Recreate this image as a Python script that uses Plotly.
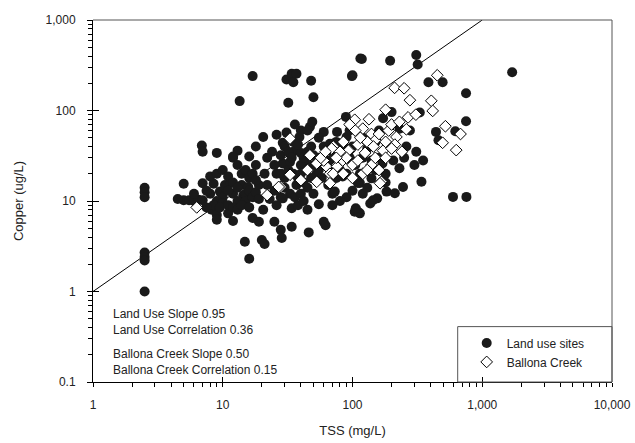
import plotly.graph_objects as go

# ---- data ----
land_x = [2.5, 2.5, 2.5, 2.5, 2.5, 2.5, 2.5,
          5, 5, 5.5, 6, 6.5, 7, 6.9, 7, 9, 7, 8.5, 8, 9, 8.2, 9, 9, 11, 10, 8, 7.5, 9.5, 10, 9, 8.5, 10, 7.5, 9.5, 10.5, 4.5, 6,
          10.4, 11.4, 12, 13, 11, 12, 14, 14.4, 15.7, 16, 18, 18, 17, 13.5, 12, 13, 11, 12, 13, 15, 15, 16, 17, 18, 19, 19, 14, 15, 13, 16, 17, 18,
          11, 12, 13, 14, 16, 14.8, 16, 19, 20, 21, 20.5, 17, 12,
          20.5, 26, 29, 31, 39, 47, 49, 60, 60, 67, 76, 36, 40, 44, 44, 53, 37, 25, 29, 33, 21, 22, 26, 25, 22, 24, 28, 30, 32, 34, 35, 38, 40, 42,
          45, 48, 50, 55, 28, 30, 32, 35, 38, 40, 42, 45, 48, 50, 55, 58, 30, 33, 36, 40, 28, 23, 26, 29, 34, 38, 42, 45, 55, 50,
          25, 28, 28.5, 34, 46, 60, 62, 31, 34, 37, 35, 48, 32, 50, 40, 45, 36, 55, 65, 70, 65, 70, 75, 80,
          89, 90, 99, 100, 115, 118, 104, 114, 110, 106, 137, 155, 183, 212, 245, 340, 595, 755, 114, 114, 140, 144, 73, 84, 110,
          230, 206, 172, 76, 98, 200, 230, 277, 310, 330, 440, 460, 620, 750, 750, 385, 495, 318, 310, 195, 1700,
          90, 95, 100, 105, 120, 130, 150, 160, 170, 190, 80, 85, 75, 70, 95, 120, 160, 140, 180, 150, 120, 100, 130, 90, 80, 70, 180, 250, 260, 300, 350]
land_y = [14, 12.5, 11, 2.7, 2.4, 2.2, 1.0,
          15.5, 10.2, 10.2, 10, 10.3, 10.2, 41, 35, 34, 15.7, 15.5, 18.7, 20, 8, 7, 6.2, 7.3, 22, 12, 13, 12.7, 11, 10, 9, 9.5, 8.5, 8.5, 14, 10.5, 12,
          15, 15.7, 30, 36, 18.7, 31, 15, 11.6, 14.3, 31, 40, 25, 240, 127, 12, 10, 13, 16, 14, 12, 10, 13, 11, 12.5, 15, 10.5, 20, 22, 25, 18, 20, 17,
          9, 8.5, 8, 9, 8.5, 3.55, 2.3, 5.9, 3.7, 3.35, 8, 6.5, 6,
          51, 54, 44, 57, 51, 66, 75, 58, 40, 43, 34, 36, 34, 28, 22, 20, 15, 13, 26, 27, 20, 15, 20, 25, 30, 35, 32, 40, 35, 30, 45, 42, 25, 30,
          35, 40, 32, 30, 20, 18, 22, 20, 18, 20, 16, 14, 18, 25, 22, 18, 14, 12, 11, 12, 11, 10.5, 9, 10.7, 8.3, 9, 10, 8, 9.2, 12,
          5.9, 4.8, 3.9, 5.2, 4.5, 5.9, 5.4, 220, 255, 255, 205, 213, 122, 140, 60, 60, 70, 50, 28, 25, 15, 12, 18, 22,
          85, 51, 240, 245, 375, 370, 7.6, 7.3, 7.6, 8.3, 9.4, 10.7, 12.7, 12.2, 14.3, 16.3, 11.1, 11.1, 15.8, 20, 17.8, 10.2, 12.7, 18.7, 15.8,
          23, 28, 82, 58, 28, 96, 63, 60, 35, 95, 58, 47, 59, 155, 76, 205, 205, 323, 410, 355, 265,
          20, 30, 40, 25, 30, 38, 45, 30, 26, 40, 30, 40, 45, 35, 60, 50, 60, 28, 20, 22, 12, 13, 14, 11, 10, 9, 16, 30, 40, 25, 28]

creek_x = [6.3, 33, 71, 53, 63, 76, 67, 95, 104, 28, 33, 40, 53, 67, 22, 27,
           450, 211, 250, 277, 405, 415, 180, 268, 308, 520, 680, 495, 630,
           134, 120, 140, 218, 240, 212, 172, 160, 167, 110, 125, 93, 150, 76, 71, 84, 69, 163,
           85, 90, 100, 110, 130, 145, 160, 180, 190, 200, 230, 260, 115, 105, 95, 120, 140, 150, 180, 200,
           80, 75, 60, 45, 47, 57, 62, 85, 100, 130]
creek_y = [8.5, 49, 40, 26, 24, 25, 20, 36, 79, 14.3, 19.5, 17, 16.3, 15.7, 11.6, 14.3,
           245, 178, 176, 130, 128, 99, 102, 84, 90, 67, 55, 44, 36.5,
           80, 63, 55, 51, 35, 42, 36, 22, 16.3, 42, 34, 36, 47, 24, 20, 28, 38, 15.7,
           45, 30, 25, 28, 45, 40, 55, 45, 60, 70, 75, 62, 50, 60, 70, 20, 25, 30, 30, 38,
           35, 30, 28, 22, 32, 30, 35, 20, 18, 22]

line_x = [1, 1000]
line_y = [1, 1000]

x_ticks = [1, 10, 100, 1000, 10000]
x_labels = ["1", "10", "100", "1,000", "10,000"]
y_ticks = [0.1, 1, 10, 100, 1000]
y_labels = ["0.1", "1", "10", "100", "1,000"]
x_minor = [m * d for d in [1, 10, 100, 1000] for m in range(2, 10)]
y_minor = [m * d for d in [0.1, 1, 10, 100] for m in range(2, 10)]

stats_text = ["Land Use Slope 0.95", "Land Use Correlation 0.36",
              "Ballona Creek Slope 0.50", "Ballona Creek Correlation 0.15"]

FONT = "Liberation Sans, Arial, sans-serif"

fig = go.Figure()
fig.add_trace(go.Scatter(x=line_x, y=line_y, mode="lines",
                         line=dict(color="black", width=1), showlegend=False, hoverinfo="skip"))
fig.add_trace(go.Scatter(x=land_x, y=land_y, mode="markers", name="Land use sites",
                         marker=dict(symbol="circle", size=10, color="#1a1a1a", line=dict(width=0))))
fig.add_trace(go.Scatter(x=creek_x, y=creek_y, mode="markers", name="Ballona Creek",
                         marker=dict(symbol="diamond", size=9, color="white",
                                     line=dict(color="black", width=1))))
# empty trace so the overlay axes (inner half of the major ticks) exist
fig.add_trace(go.Scatter(x=[], y=[], xaxis="x2", yaxis="y2", showlegend=False))

axis_common = dict(type="log", showgrid=False, zeroline=False, showline=True, automargin=False,
                   linecolor="black", linewidth=1, ticks="outside", tickcolor="black",
                   tickwidth=1, tickfont=dict(family=FONT, size=12, color="#222"))

fig.update_layout(
    width=635, height=443,
    margin=dict(l=93, r=23, t=20, b=61, autoexpand=False),
    plot_bgcolor="white", paper_bgcolor="white",
    font=dict(family=FONT, size=12, color="#222"),
    xaxis=dict(**axis_common, range=[0, 4], tickmode="array", tickvals=x_ticks, ticktext=x_labels,
               ticklen=4, ticklabelstandoff=8,
               minor=dict(tickmode="array", tickvals=x_minor, ticks="outside", ticklen=4,
                          tickcolor="black", tickwidth=1),
               title=dict(text="TSS (mg/L)", font=dict(family=FONT, size=13, color="#222"), standoff=14)),
    yaxis=dict(**axis_common, range=[-1, 3], tickmode="array", tickvals=y_ticks, ticktext=y_labels,
               ticklen=5, ticklabelstandoff=9,
               minor=dict(tickmode="array", tickvals=y_minor, ticks="outside", ticklen=4,
                          tickcolor="black", tickwidth=1),
               title=dict(text="Copper (ug/L)", font=dict(family=FONT, size=13, color="#222"), standoff=19)),
    xaxis2=dict(type="log", range=[0, 4], overlaying="x", anchor="y", side="bottom", automargin=False,
                showgrid=False, zeroline=False, showline=False, showticklabels=False,
                tickmode="array", tickvals=x_ticks, ticks="inside", ticklen=5,
                tickcolor="black", tickwidth=1),
    yaxis2=dict(type="log", range=[-1, 3], overlaying="y", anchor="x", side="left", automargin=False,
                showgrid=False, zeroline=False, showline=False, showticklabels=False,
                tickmode="array", tickvals=y_ticks, ticks="inside", ticklen=6,
                tickcolor="black", tickwidth=1),
    legend=dict(x=0.72, y=0.148, xanchor="left", yanchor="top",
                bgcolor="rgba(0,0,0,0)", borderwidth=0,
                font=dict(family=FONT, size=12, color="#222"), tracegroupgap=0),
    showlegend=True,
)

# frame: top and right borders (grey) and legend box
fig.add_shape(type="line", xref="paper", yref="paper", x0=0, x1=1, y0=1, y1=1,
              line=dict(color="#555", width=1))
fig.add_shape(type="line", xref="paper", yref="paper", x0=1, x1=1, y0=0, y1=1,
              line=dict(color="#555", width=1))
fig.add_shape(type="rect", xref="paper", yref="paper", x0=0.7027, x1=1, y0=0, y1=0.153,
              line=dict(color="#555", width=1), fillcolor="rgba(0,0,0,0)")

for i, t in enumerate(stats_text):
    ypos = [314, 330, 354, 370][i]
    fig.add_annotation(text=t, xref="paper", yref="paper", x=(111 - 93) / 519,
                       y=(382 - ypos) / 362, xanchor="left", yanchor="middle", showarrow=False,
                       font=dict(family=FONT, size=12, color="#222"))

fig.write_html("out.html", config={"displayModeBar": False},
               post_script="document.body.style.margin='0px';")
